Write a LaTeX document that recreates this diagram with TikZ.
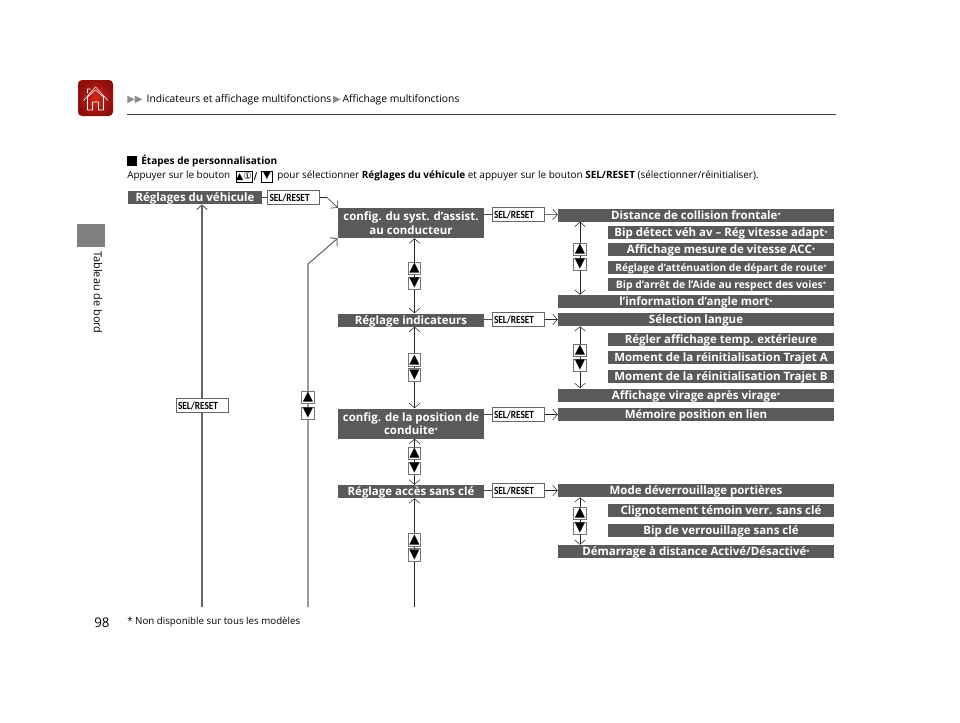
\documentclass[tikz,border=0pt]{standalone}
\usepackage{fontspec}
\setmainfont{Open Sans}
\newfontfamily\symfont{DejaVu Sans}
\newfontfamily\selfont[FakeStretch=0.85]{Carlito}
\usetikzlibrary{arrows.meta,backgrounds,positioning}

\definecolor{boxgray}{HTML}{5A5A5A}
\definecolor{homered}{HTML}{D8261C}
\definecolor{homedark}{HTML}{8E0F0C}
\newcommand{\st}{\raisebox{1.2pt}{\fontsize{4.5}{5}\selectfont *}}
\newcommand{\tri}{{\symfont\fontsize{7.5}{7.5}\selectfont\textcolor{black!45}{▶}}}

\begin{document}
\begin{tikzpicture}
  [
   x=0.75pt,y=-0.75pt,
   hd/.style={fill=boxgray,text=white,inner xsep=0pt,inner ysep=0pt,minimum height=9.75pt,
              text height=7.6pt,text depth=1.2pt,font=\fontsize{8.6}{10}\selectfont\bfseries},
   lw/.style={hd,minimum width=109.5pt},
   ww/.style={hd,minimum width=207pt},
   sw/.style={hd,minimum width=169.5pt},
   two/.style={lw,minimum height=22.5pt,align=center,text height=,text depth=},
   sel/.style={draw=black!60,fill=white,inner sep=0pt,inner xsep=1.5pt,text width=36pt,align=left,
               minimum height=10.5pt,font=\selfont\bfseries\fontsize{8.2}{8}\selectfont},
   btn/.style={draw=black!55,fill=white,thick,inner sep=0pt,minimum size=9.5pt,
               font=\symfont\fontsize{10}{10}\selectfont},
   nav/.style={draw=black!85,-{Straight Barb[length=3.5pt,width=8pt]}},
   twin/.style={nav,{Straight Barb[length=3.5pt,width=8pt]}-{Straight Barb[length=3.5pt,width=8pt]}},
   back/.style={nav,draw=black!60,thick},
   plain/.style={inner sep=0pt,font=\fontsize{7.4}{9}\selectfont}
  ]
   \useasboundingbox (0,0) rectangle (960,722);

   % page head
   \shade[inner color=homered,outer color=homedark,rounded corners=3]
     (78,80) rectangle (113,116);
   \draw[white,line join=round] (83.5,100.5) -- (95.5,87) -- (108,100.5) (87.5,97) -- (87.5,110)
     -- (92.5,110) -- (92.5,102) -- (98.5,102) -- (98.5,110) -- (103.5,110) -- (103.5,97)
     -- (95.5,90) -- cycle (87.5,93) -- (87.5,89) -- (90.5,89);
   \node[plain,anchor=west,font=\fontsize{7.75}{9}\selectfont] (crumb) at (127,100)
     {\tri\tri\hspace{3pt}Indicateurs et affichage multifonctions\,\tri\,Affichage multifonctions};
   \draw[black!75,thick] (127,114.5) -- (836,114.5);
   \fill[black!50] (77,224) rectangle (105,247);
   \node[plain,rotate=-90,anchor=west,font=\fontsize{8.2}{9}\selectfont] (tab) at (98,251) {Tableau de bord};

   % intro
   \fill[black] (127,156) rectangle (137,166);
   \node[plain,anchor=west,font=\fontsize{7.55}{9}\selectfont\bfseries] (steps) at (141,161.5) {Étapes de personnalisation};
   \node[plain,anchor=west] (intro) at (127,176) {Appuyer sur le bouton};
   \node[btn,minimum width=12pt,minimum height=8pt,thin,draw=black,font=\symfont\fontsize{7}{7}\selectfont] (keyup) at (244,176.5) {▲①};
   \node[plain,font=\symfont\bfseries\fontsize{7}{8}\selectfont] (slash) [right=1pt of keyup] {/};
   \node[btn,minimum size=8pt,thin,draw=black,font=\symfont\fontsize{7}{7}\selectfont] (keydn) at (267,176.5) {▼};
   \node[plain,anchor=west,font=\fontsize{7.47}{9}\selectfont] (introb) at (277,176)
     {pour sélectionner \textbf{Réglages du véhicule} et appuyer sur le bouton \textbf{SEL/RESET} (sélectionner/réinitialiser).};

   % main column
   \node[hd,minimum width=100.5pt] (veh) at (195,197.5) {Réglages du véhicule};
   \node[sel] (s1) [right=3.75pt of veh] {SEL/RESET};
   \node[two] (cfg) at (411,223) {config. du syst. d’assist.\\au conducteur};
   \node[lw] (ind) at (411,320) {Réglage indicateurs};
   \node[two] (pos) at (411,423.5) {config. de la position de\\conduite\st};
   \node[lw] (acc) at (411,491.5) {Réglage accès sans clé};
   \node[sel] (s0) at (202,405.5) {SEL/RESET};
   \node[sel] (s2) at (518,214.5) {SEL/RESET};
   \node[sel] (s3) at (518,319.5) {SEL/RESET};
   \node[sel] (s4) at (518,414.5) {SEL/RESET};
   \node[sel] (s5) at (518,490.5) {SEL/RESET};

   % right column
   \node[ww] (dist) at (696,215) {Distance de collision frontale\st};
   \node[sw] (bip) at (721,232.5) {Bip détect véh av – Rég vitesse adapt\st};
   \node[sw] (mes) at (721,249.5) {Affichage mesure de vitesse ACC\st};
   \node[sw,font=\fontsize{7.6}{9}\selectfont\bfseries] (att) at (721,267) {Réglage d’atténuation de départ de route\st};
   \node[sw,font=\fontsize{7.8}{9}\selectfont\bfseries] (arr) at (721,284) {Bip d’arrêt de l’Aide au respect des voies\st};
   \node[ww] (ang) at (696,301.5) {l’information d’angle mort\st};
   \node[ww] (lang) at (696,319.5) {Sélection langue};
   \node[sw] (tmp) at (721,339) {Régler affichage temp. extérieure};
   \node[sw] (tra) at (721,357.5) {Moment de la réinitialisation Trajet A};
   \node[sw] (trb) at (721,376.5) {Moment de la réinitialisation Trajet B};
   \node[ww] (vir) at (696,395) {Affichage virage après virage\st};
   \node[ww] (mem) at (696,414.5) {Mémoire position en lien};
   \node[ww] (dev) at (696,490.5) {Mode déverrouillage portières};
   \node[sw] (cli) at (721,510.5) {Clignotement témoin verr. sans clé};
   \node[sw] (ver) at (721,530) {Bip de verrouillage sans clé};
   \node[ww] (dem) at (696,551.5) {Démarrage à distance Activé/Désactivé\st};

   % up and down keys
   \node[btn] (u1) at (414.5,268.5) {▲};
   \node[btn] (d1) at (414.5,283.5) {▼};
   \node[btn] (u2) at (414.5,360) {▲};
   \node[btn] (d2) at (414.5,375) {▼};
   \node[btn] (u3) at (414.5,453.5) {▲};
   \node[btn] (d3) at (414.5,468.5) {▼};
   \node[btn] (u4) at (414.5,540) {▲};
   \node[btn] (d4) at (414.5,555) {▼};
   \node[btn] (u0) at (308,397.5) {▲};
   \node[btn] (d0) at (308,413.5) {▼};
   \node[btn] (u5) at (580,249.5) {▲};
   \node[btn] (d5) at (580,264.5) {▼};
   \node[btn] (u6) at (580,350.5) {▲};
   \node[btn] (d6) at (580,365.5) {▼};
   \node[btn] (u7) at (580,513.5) {▲};
   \node[btn] (d7) at (580,528.5) {▼};

   \coordinate (e0) at (202,607);
   \coordinate (e1) at (308,607);
   \coordinate (e2) at (414.5,607);
   \coordinate (k1) at (327,197.5);
   \coordinate (k2) at (308,264);

   \begin{scope}[on background layer]
   \draw[black!70] (veh) -- (s1);
   \draw[nav] (s1) -- (k1) -- (cfg.north west);
   \draw[black!70] (cfg.east |- s2) -- (s2);
   \draw[black!70] (ind.east |- s3) -- (s3);
   \draw[black!70] (pos.east |- s4) -- (s4);
   \draw[black!70] (acc.east |- s5) -- (s5);
   \draw[nav] (s2) -- (dist);
   \draw[nav] (s3) -- (lang);
   \draw[nav] (s4) -- (mem);
   \draw[nav] (s5) -- (dev);

   \draw[twin] (cfg.south -| u1) -- (ind.north -| u1);
   \draw[twin] (ind.south -| u2) -- (pos.north -| u2);
   \draw[twin] (pos.south -| u3) -- (acc.north -| u3);
   \draw[nav] (e2) -- (acc.south -| u4);
   \draw[twin] (dist.south -| u5) -- (ang.north -| u5);
   \draw[twin] (lang.south -| u6) -- (vir.north -| u6);
   \draw[twin] (dev.south -| u7) -- (dem.north -| u7);

   \draw[back] (e0) -- (veh.south -| e0);
   \draw[back] (e1) -- (k2) -- (cfg.south west);
   \end{scope}

   % page foot
   \node[plain,anchor=west,font=\fontsize{10}{12}\selectfont] (page) at (94,623) {98};
   \node[plain,anchor=west,font=\fontsize{7.3}{9}\selectfont] (note) at (127,622) {* Non disponible sur tous les modèles};
\end{tikzpicture}
\end{document}
